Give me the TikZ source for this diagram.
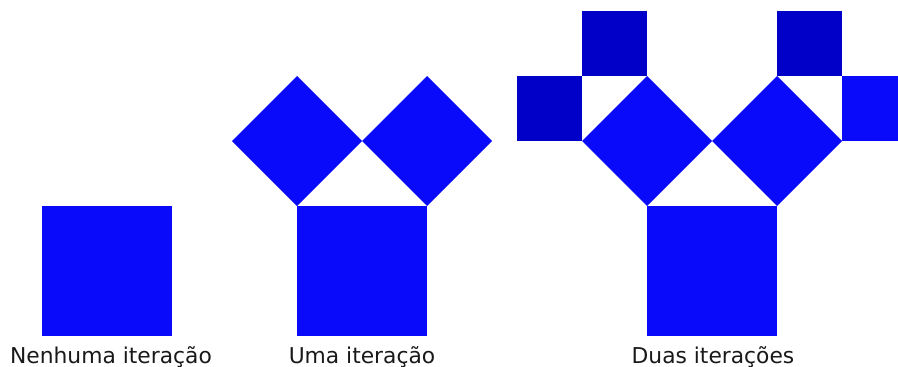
\documentclass[tikz,border=0pt]{standalone}
\usepackage{fontspec}
\setmainfont{DejaVu Sans}
\definecolor{mainblue}{RGB}{10,10,250}
\definecolor{darkblue}{RGB}{0,0,200}
\tikzset{
  sq/.style={fill=mainblue, draw=none},
  dsq/.style={fill=darkblue, draw=none},
  lbl/.style={font=\fontsize{21.8}{24}\selectfont, text=black!90, anchor=base, inner sep=0pt}
}
\begin{document}
\begin{tikzpicture}[x=1pt,y=-1pt]
\useasboundingbox (0,0) rectangle (898,367);
\clip (0,0) rectangle (898,367);
% no iteration
\fill[sq] (42,206) rectangle (172,336);
% one iteration
\fill[sq] (297,206) rectangle (427,336);
\fill[sq] (297,206) -- (362,141) -- (297,76) -- (232,141) -- cycle;
\fill[sq] (362,141) -- (427,206) -- (492,141) -- (427,76) -- cycle;
% two iterations
\fill[sq] (647,206) rectangle (777,336);
\fill[sq] (647,206) -- (712,141) -- (647,76) -- (582,141) -- cycle;
\fill[sq] (712,141) -- (777,206) -- (842,141) -- (777,76) -- cycle;
\fill[dsq] (517,76) rectangle (582,141);
\fill[dsq] (582,11) rectangle (647,76);
\fill[dsq] (777,11) rectangle (842,76);
\fill[sq] (842,76) rectangle (907,141);
% labels
\node[lbl] (l0) at (111,363) {Nenhuma iteração};
\node[lbl] (l1) at (362,363) {Uma iteração};
\node[lbl] (l2) at (713,363) {Duas iterações};
\end{tikzpicture}
\end{document}
